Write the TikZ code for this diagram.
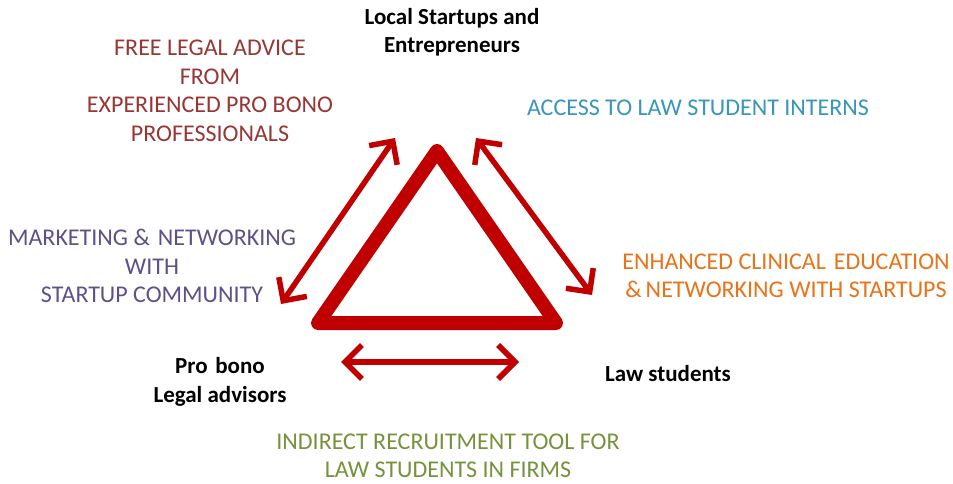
\documentclass[tikz,border=0pt]{standalone}
\usepackage{fontspec}
\setmainfont{Carlito}
\usetikzlibrary{arrows.meta}
\definecolor{tri}{RGB}{192,0,0}
\definecolor{cfree}{RGB}{150,55,53}
\definecolor{cacc}{RGB}{57,150,185}
\definecolor{cmkt}{RGB}{95,80,135}
\definecolor{cenh}{RGB}{232,115,25}
\definecolor{cind}{RGB}{118,146,60}
\begin{document}
\begin{tikzpicture}[x=1pt,y=-1pt,
  lbl/.style={align=center,inner sep=0pt,font=\fontsize{24}{28.5}\selectfont},
  party/.style={lbl,font=\fontsize{23}{28.5}\selectfont\bfseries,text=black},
  rel/.style={draw=tri,line width=5.5pt,{Straight Barb[length=17pt,width=34pt,line width=5.5pt]}-{Straight Barb[length=17pt,width=34pt,line width=5.5pt]}}]
\useasboundingbox (0,0) rectangle (953,484);
\fill[white] (0,0) rectangle (953,484);
% triangle
\coordinate (A) at (437,151);
\coordinate (L) at (318,323);
\coordinate (R) at (556,323);
\draw[tri,line width=14pt,line join=round] (A) -- (L) -- (R) -- cycle;
% arrows
\coordinate (l1) at (395,138);
\coordinate (l2) at (281,304);
\coordinate (r1) at (476,138);
\coordinate (r2) at (592,295);
\coordinate (b1) at (341,362);
\coordinate (b2) at (519,362);
\draw[rel] (l2) -- (l1);
\draw[rel] (r1) -- (r2);
\draw[rel] (b1) -- (b2);
% parties
\node[party] (top) at (452,32) {Local Startups and\\Entrepreneurs};
\node[party] (pro) at (220,382) {Pro\,\,bono\\Legal advisors};
\node[party] (law) at (668,374) {Law students};
% benefits
\node[lbl,text=cfree] (free) at (210,91) {FREE LEGAL ADVICE\\FROM\\EXPERIENCED PRO BONO\\PROFESSIONALS};
\node[lbl,text=cacc] (acc) at (698,108) {ACCESS TO LAW STUDENT INTERNS};
\node[lbl,text=cmkt] (mkt) at (152,266) {MARKETING \&\,\,NETWORKING\\WITH\\STARTUP COMMUNITY};
\node[lbl,text=cenh] (enh) at (786,276) {ENHANCED CLINICAL\,\,EDUCATION\\\&\,NETWORKING WITH STARTUPS};
\node[lbl,text=cind] (ind) at (448,456) {INDIRECT RECRUITMENT TOOL FOR\\LAW STUDENTS IN FIRMS};
\end{tikzpicture}
\end{document}
